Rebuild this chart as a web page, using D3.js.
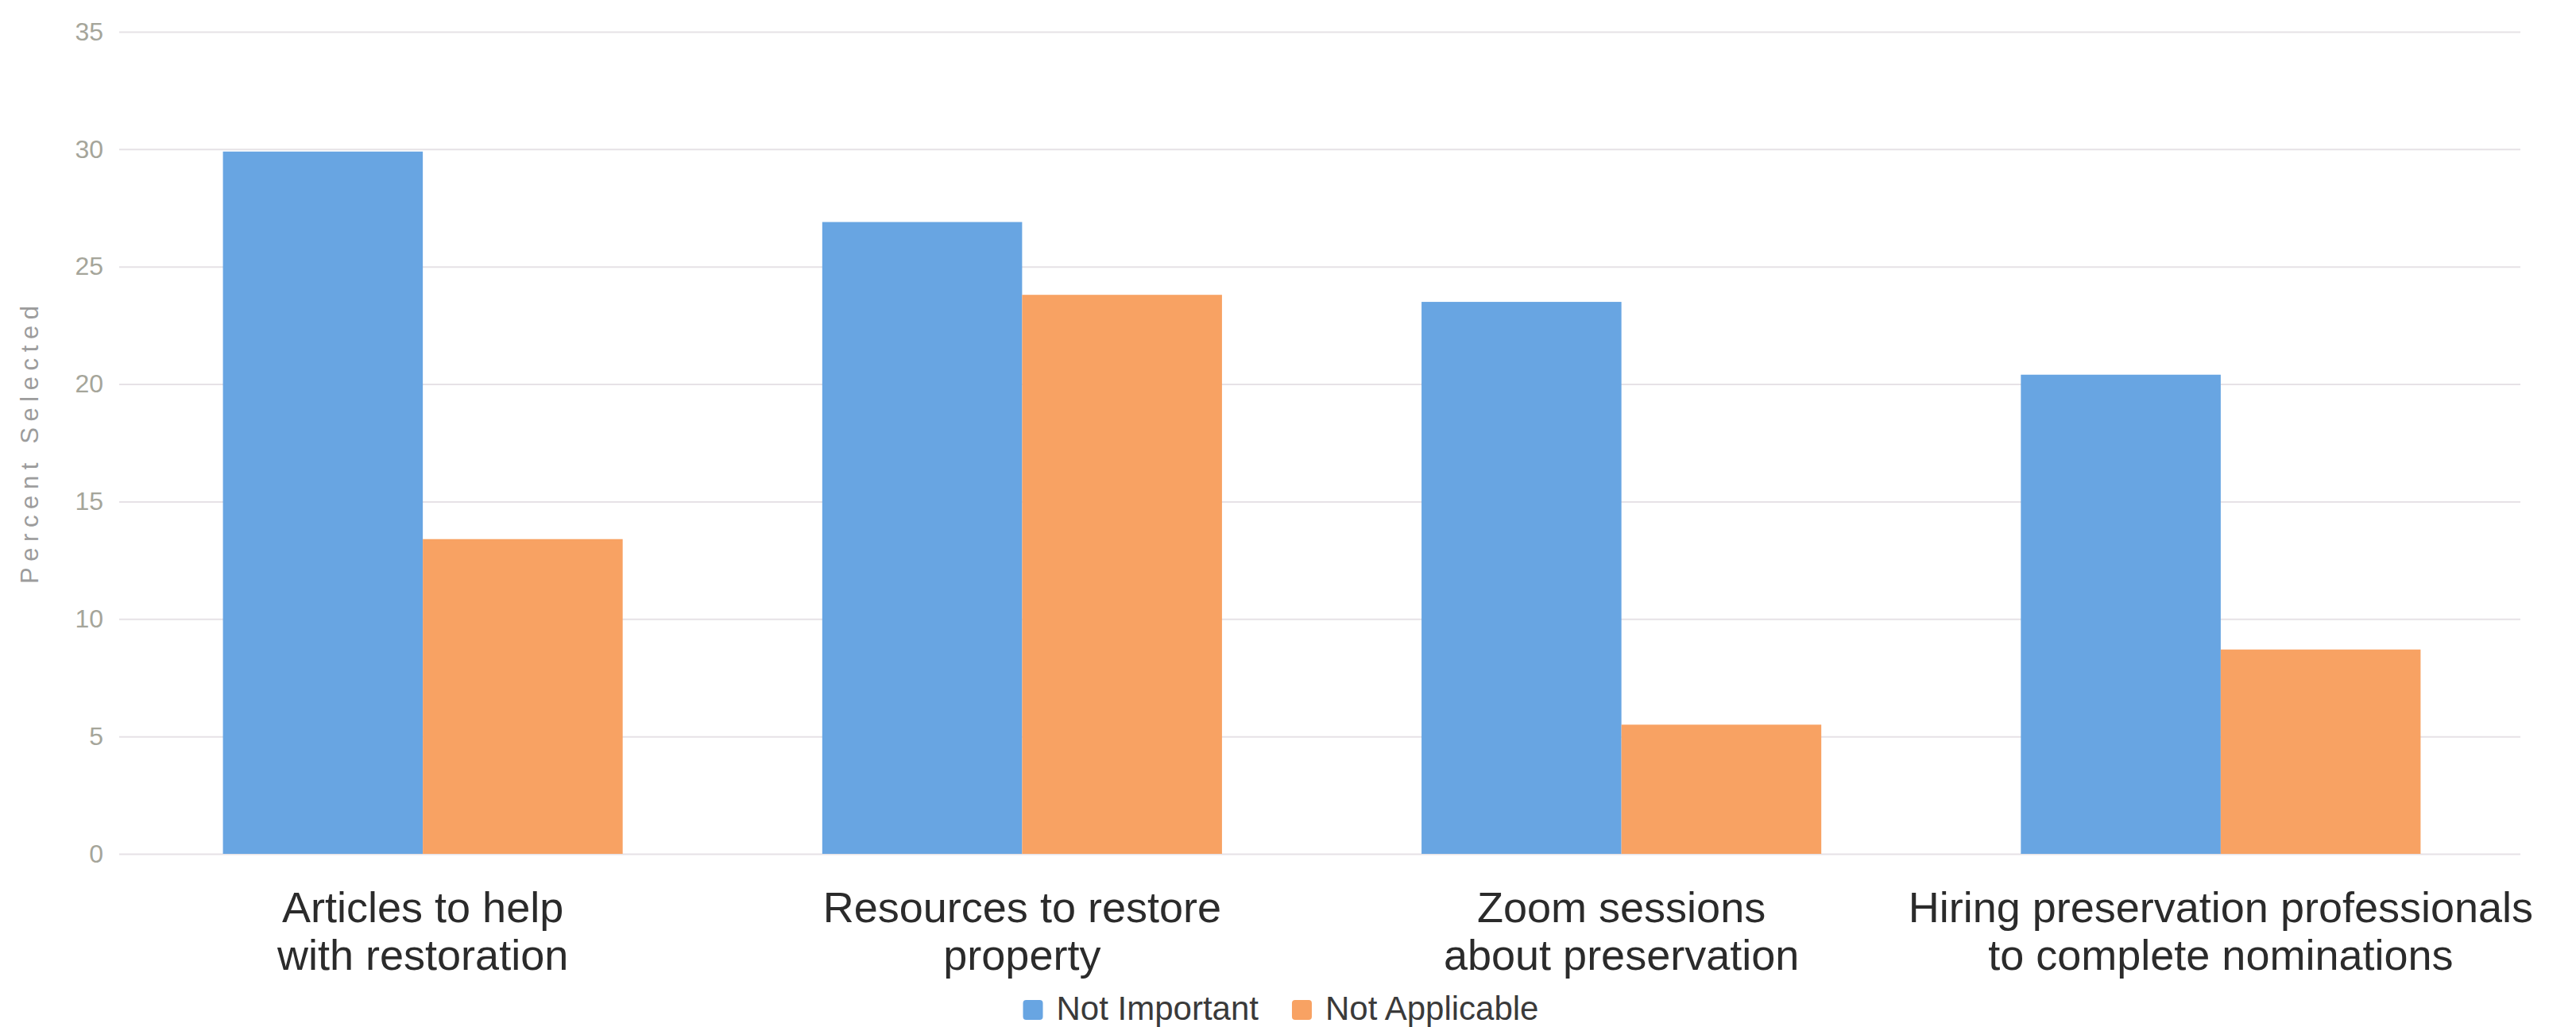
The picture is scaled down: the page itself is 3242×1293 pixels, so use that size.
<!DOCTYPE html>
<html>
<head>
<meta charset="utf-8">
<script src="https://cdnjs.cloudflare.com/ajax/libs/d3/7.8.5/d3.min.js"></script>
<style>
    html, body { margin: 0; padding: 0; background: #ffffff; }
    svg { display: block; font-family: "Liberation Sans", Arial, sans-serif; }
</style>
</head>
<body>
<svg id="chart"></svg>
<script>
const categories = [
    ['Articles to help', 'with restoration'],
    ['Resources to restore', 'property'],
    ['Zoom sessions', 'about preservation'],
    ['Hiring preservation professionals', 'to complete nominations']
];
const seriesNames = ['Not Important', 'Not Applicable'];
const notImportant = [29.9, 26.9, 23.5, 20.4];
const notApplicable = [13.4, 23.8, 5.5, 8.7];
const yTicks = [0, 5, 10, 15, 20, 25, 30, 35];
const yTitle = 'Percent Selected';

const colors = ['#68a5e2', '#f8a263'];

const width = 3242;
const height = 1293;
const plot = { left: 155, right: 3172, top: 40, bottom: 1075 };

var svg = d3.select('#chart')
    .attr('width', width)
    .attr('height', height);

var rows = categories.map((c, i) => ({
    key: c.join(' '),
    lines: c,
    values: [notImportant[i], notApplicable[i]]
}));

var x0 = d3.scaleBand()
    .domain(rows.map(d => d.key))
    .range([plot.left, plot.right])
    .paddingInner(0.333)
    .paddingOuter(0.1665);

var x1 = d3.scaleBand()
    .domain(seriesNames)
    .range([0, x0.bandwidth()]);

var y = d3.scaleLinear()
    .domain([0, 35])
    .range([plot.bottom, plot.top]);

// gridlines + tick labels
var yAxis = d3.axisLeft(y)
    .tickValues(yTicks)
    .tickSize(-(plot.right - plot.left + 5))
    .tickPadding(20);

var gY = svg.append('g')
    .attr('transform', 'translate(' + (plot.left - 5) + ',0)')
    .call(yAxis);

gY.select('.domain').remove();
gY.selectAll('.tick line')
    .attr('stroke', '#e6e2e6')
    .attr('stroke-width', 2);
gY.selectAll('.tick text')
    .attr('fill', '#a5a59a')
    .attr('font-size', 32);

svg.append('text')
    .attr('transform', 'translate(48,560) rotate(-90)')
    .attr('text-anchor', 'middle')
    .attr('fill', '#9c9c9c')
    .attr('font-size', 31)
    .attr('textLength', 350)
    .attr('lengthAdjust', 'spacing')
    .text(yTitle);

// bars
var groups = svg.append('g')
    .selectAll('g')
    .data(rows)
    .join('g')
    .attr('transform', d => 'translate(' + x0(d.key) + ',0)');

groups.selectAll('rect')
    .data(d => d.values.map((v, i) => ({ name: seriesNames[i], value: v, i: i })))
    .join('rect')
    .attr('x', d => x1(d.name))
    .attr('y', d => y(d.value))
    .attr('width', x1.bandwidth())
    .attr('height', d => y(0) - y(d.value))
    .attr('fill', d => colors[d.i]);

// category labels
var labels = svg.append('g')
    .selectAll('text')
    .data(rows)
    .join('text')
    .attr('text-anchor', 'middle')
    .attr('fill', '#2b2b2b')
    .attr('font-size', 54)
    .attr('x', d => x0(d.key) + x0.bandwidth() / 2)
    .attr('y', 1161);

labels.selectAll('tspan')
    .data(d => d.lines)
    .join('tspan')
    .attr('x', function() { return d3.select(this.parentNode).attr('x'); })
    .attr('dy', (d, i) => i === 0 ? 0 : 60)
    .text(d => d);

// legend
var legend = svg.append('g');
var items = legend.selectAll('g')
    .data(seriesNames)
    .join('g');

items.append('rect')
    .attr('width', 25)
    .attr('height', 25)
    .attr('rx', 4)
    .attr('y', -25)
    .attr('fill', (d, i) => colors[i]);

items.append('text')
    .attr('x', 42)
    .attr('fill', '#3a3a3a')
    .attr('font-size', 42)
    .text(d => d);

var offset = 0;
items.each(function() {
    var w = 42 + d3.select(this).select('text').node().getComputedTextLength();
    d3.select(this).attr('transform', 'translate(' + offset + ',0)');
    offset += w + 42;
});
offset -= 42;

const legendCenterX = 1612;
legend.attr('transform', 'translate(' + (legendCenterX - offset / 2) + ',1284)');
</script>
</body>
</html>
